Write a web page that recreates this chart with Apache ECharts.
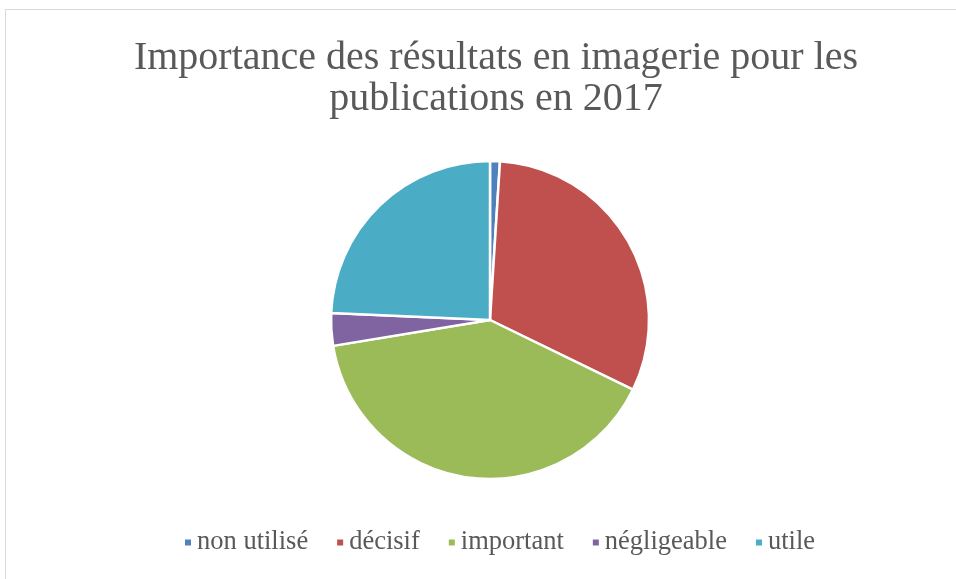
<!DOCTYPE html>
<html>
<head>
<meta charset="utf-8">
<script src="https://cdn.jsdelivr.net/npm/echarts@6/dist/echarts.min.js"></script>
<style>
  html, body { margin: 0; padding: 0; background: #fff; }
  #chart { width: 956px; height: 579px; }
</style>
</head>
<body>
<div id="chart"></div>
<script>
// categories and shares (%), clockwise from 12 o'clock
var categories = ['non utilisé', 'décisif', 'important', 'négligeable', 'utile'];
var shares = [1.0, 31.2, 40.2, 3.3, 24.3];
var colors = ['#4f81bd', '#c0504d', '#9bbb59', '#8064a2', '#4bacc6'];

var chart = echarts.init(document.getElementById('chart'));

var pieData = categories.map(function (name, i) {
  return { name: name, value: shares[i], itemStyle: { color: colors[i] } };
});

chart.setOption({
  backgroundColor: '#fff',
  animation: false,
  title: {
    text: 'Importance des résultats en imagerie pour les\npublications en 2017',
    left: 491,
    textAlign: 'center',
    top: 33,
    textStyle: {
      fontFamily: 'Liberation Serif',
      fontWeight: 'normal',
      fontSize: 40,
      lineHeight: 41,
      color: '#595959'
    }
  },
  legend: {
    data: categories,
    top: 529,
    left: 183,
    padding: 0,
    icon: 'rect',
    itemWidth: 8,
    itemHeight: 8,
    itemGap: 27,
    textStyle: {
      fontFamily: 'Liberation Serif',
      fontSize: 26.5,
      color: '#595959'
    }
  },
  graphic: [{
    type: 'rect',
    shape: { x: 5.5, y: 9.5, width: 1000, height: 1000 },
    style: { fill: 'none', stroke: '#d9d9d9', lineWidth: 1 },
    silent: true
  }],
  series: [{
    type: 'pie',
    center: [490, 320],
    radius: 159,
    startAngle: 90,
    clockwise: true,
    label: { show: false },
    labelLine: { show: false },
    itemStyle: { borderColor: '#fff', borderWidth: 2.5 },
    data: pieData
  }]
});
</script>
</body>
</html>
